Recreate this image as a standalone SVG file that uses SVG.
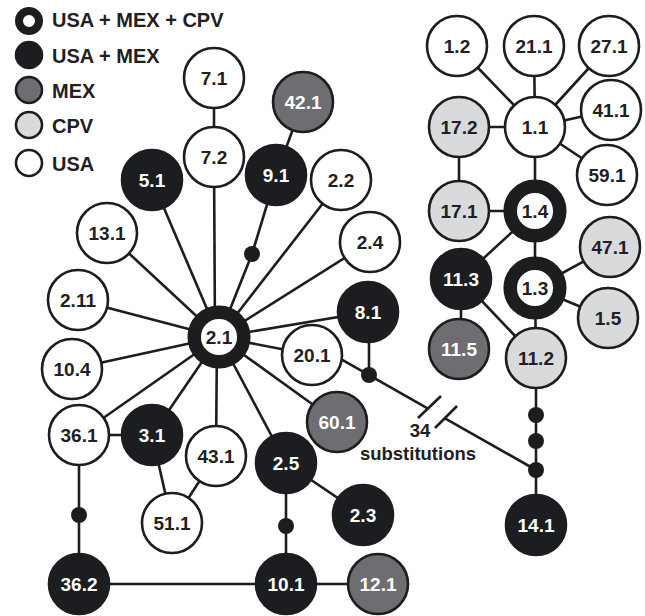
<svg xmlns="http://www.w3.org/2000/svg" width="645" height="616" viewBox="0 0 645 616">
<style>
.e{stroke:#1c1d1f;stroke-width:2.6;fill:none}
.d{fill:#1c1d1f}
.usa{fill:#fff;stroke:#1c1d1f;stroke-width:2.6}
.cpv{fill:#d9dadc;stroke:#1c1d1f;stroke-width:2.6}
.mex{fill:#6e6e72;stroke:#1c1d1f;stroke-width:2.6}
.um{fill:#1c1d20;stroke:#1c1d1f;stroke-width:2.6}
.ring{fill:#fff;stroke:#1c1d1f;stroke-width:13.5}
text{font-family:"Liberation Sans",Arial,sans-serif;font-weight:bold;font-size:19px;text-anchor:middle;fill:#1f2022}
.w{fill:#fff}
.lg{text-anchor:start;font-size:20px}
.sub{font-size:18.5px}
</style>
<rect width="645" height="616" fill="#fff"/>
<g id="legend">
<circle cx="29" cy="21" r="10" fill="#fff" stroke="#1c1d1f" stroke-width="8"/>
<text class="lg" x="52" y="27">USA + MEX + CPV</text>
<circle cx="29" cy="55" r="13" class="um"/>
<text class="lg" x="52" y="63">USA + MEX</text>
<circle cx="29" cy="90" r="13" class="mex"/>
<text class="lg" x="52" y="98">MEX</text>
<circle cx="29" cy="125" r="13" class="cpv"/>
<text class="lg" x="52" y="133">CPV</text>
<circle cx="29" cy="163" r="13" class="usa"/>
<text class="lg" x="52" y="171">USA</text>
</g>
<g id="connectors">
<line class="e" x1="214" y1="78" x2="214" y2="157"/>
<line class="e" x1="215" y1="337" x2="214" y2="157"/>
<line class="e" x1="219" y1="337" x2="152" y2="180"/>
<polyline class="e" points="219,337 252,254 276,175"/>
<line class="e" x1="276" y1="175" x2="303" y2="102"/>
<line class="e" x1="219" y1="337" x2="341" y2="180"/>
<line class="e" x1="219" y1="337" x2="370" y2="242"/>
<line class="e" x1="219" y1="337" x2="368" y2="312"/>
<line class="e" x1="219" y1="337" x2="312" y2="355"/>
<line class="e" x1="219" y1="337" x2="337" y2="422"/>
<line class="e" x1="219" y1="337" x2="286" y2="463"/>
<line class="e" x1="217" y1="337" x2="216" y2="456"/>
<line class="e" x1="219" y1="337" x2="152" y2="435"/>
<line class="e" x1="219" y1="337" x2="79" y2="435"/>
<line class="e" x1="219" y1="337" x2="72" y2="369"/>
<line class="e" x1="219" y1="337" x2="78" y2="300"/>
<line class="e" x1="219" y1="337" x2="107" y2="233"/>
<line class="e" x1="369" y1="312" x2="369" y2="375"/>
<line class="e" x1="330" y1="352.8" x2="428" y2="408.6"/>
<line class="e" x1="418" y1="418" x2="441" y2="396"/>
<line class="e" x1="435" y1="428" x2="457" y2="406"/>
<line class="e" x1="445" y1="418.3" x2="536" y2="470"/>
<line class="e" x1="79" y1="435" x2="152" y2="435"/>
<line class="e" x1="152" y1="435" x2="172" y2="523"/>
<line class="e" x1="216" y1="456" x2="172" y2="523"/>
<line class="e" x1="286" y1="463" x2="363" y2="515"/>
<line class="e" x1="286" y1="463" x2="286" y2="584"/>
<line class="e" x1="79" y1="435" x2="79" y2="584"/>
<line class="e" x1="79" y1="584" x2="378" y2="584"/>
<line class="e" x1="457" y1="46" x2="535" y2="127"/>
<line class="e" x1="534" y1="46" x2="535" y2="127"/>
<line class="e" x1="609" y1="46" x2="535" y2="127"/>
<line class="e" x1="611" y1="110" x2="535" y2="127"/>
<line class="e" x1="607" y1="175" x2="535" y2="127"/>
<line class="e" x1="459" y1="127" x2="535" y2="127"/>
<line class="e" x1="459" y1="127" x2="459" y2="211"/>
<line class="e" x1="535" y1="127" x2="535" y2="211"/>
<line class="e" x1="459" y1="211" x2="535" y2="211"/>
<line class="e" x1="535" y1="211" x2="535" y2="288"/>
<line class="e" x1="535" y1="211" x2="461" y2="279"/>
<line class="e" x1="535" y1="288" x2="610" y2="247"/>
<line class="e" x1="535" y1="288" x2="608" y2="318"/>
<line class="e" x1="461" y1="279" x2="461" y2="349"/>
<line class="e" x1="461" y1="279" x2="536" y2="358"/>
<line class="e" x1="535" y1="288" x2="536" y2="358"/>
<line class="e" x1="536" y1="358" x2="536" y2="525"/>
<circle class="d" cx="252" cy="254" r="8"/>
<circle class="d" cx="369" cy="375" r="8"/>
<circle class="d" cx="79" cy="515" r="8"/>
<circle class="d" cx="286" cy="526" r="8"/>
<circle class="d" cx="536" cy="415" r="8"/>
<circle class="d" cx="536" cy="441" r="8"/>
<circle class="d" cx="536" cy="470" r="8"/>
</g>
<g id="label-34">
<text class="sub" x="420" y="437">34</text>
<text class="sub" x="418" y="460">substitutions</text>
</g>
<g id="n2_1"><circle class="ring" cx="219" cy="337" r="24.8"/><text x="219" y="344">2.1</text></g>
<g id="n7_1"><circle class="usa" cx="214" cy="78" r="30"/><text x="214" y="85">7.1</text></g>
<g id="n7_2"><circle class="usa" cx="214" cy="157" r="30"/><text x="214" y="164">7.2</text></g>
<g id="n5_1"><circle class="um" cx="152" cy="180" r="30"/><text class="w" x="152" y="187">5.1</text></g>
<g id="n42_1"><circle class="mex" cx="303" cy="102" r="30"/><text class="w" x="303" y="109">42.1</text></g>
<g id="n9_1"><circle class="um" cx="276" cy="175" r="30"/><text class="w" x="276" y="182">9.1</text></g>
<g id="n2_2"><circle class="usa" cx="341" cy="180" r="30"/><text x="341" y="187">2.2</text></g>
<g id="n2_4"><circle class="usa" cx="370" cy="242" r="30"/><text x="370" y="249">2.4</text></g>
<g id="n8_1"><circle class="um" cx="368" cy="312" r="30"/><text class="w" x="368" y="319">8.1</text></g>
<g id="n20_1"><circle class="usa" cx="312" cy="355" r="30"/><text x="312" y="362">20.1</text></g>
<g id="n60_1"><circle class="mex" cx="337" cy="422" r="30"/><text class="w" x="337" y="429">60.1</text></g>
<g id="n13_1"><circle class="usa" cx="107" cy="233" r="30"/><text x="107" y="240">13.1</text></g>
<g id="n2_11"><circle class="usa" cx="78" cy="300" r="30"/><text x="78" y="307">2.11</text></g>
<g id="n10_4"><circle class="usa" cx="72" cy="369" r="30"/><text x="72" y="376">10.4</text></g>
<g id="n36_1"><circle class="usa" cx="79" cy="435" r="30"/><text x="79" y="442">36.1</text></g>
<g id="n3_1"><circle class="um" cx="152" cy="435" r="30"/><text class="w" x="152" y="442">3.1</text></g>
<g id="n43_1"><circle class="usa" cx="216" cy="456" r="30"/><text x="216" y="463">43.1</text></g>
<g id="n51_1"><circle class="usa" cx="172" cy="523" r="30"/><text x="172" y="530">51.1</text></g>
<g id="n2_5"><circle class="um" cx="286" cy="463" r="30"/><text class="w" x="286" y="470">2.5</text></g>
<g id="n2_3"><circle class="um" cx="363" cy="515" r="30"/><text class="w" x="363" y="522">2.3</text></g>
<g id="n36_2"><circle class="um" cx="79" cy="584" r="30"/><text class="w" x="79" y="591">36.2</text></g>
<g id="n10_1"><circle class="um" cx="286" cy="584" r="30"/><text class="w" x="286" y="591">10.1</text></g>
<g id="n12_1"><circle class="mex" cx="378" cy="584" r="30"/><text class="w" x="378" y="591">12.1</text></g>
<g id="n1_2"><circle class="usa" cx="457" cy="46" r="30"/><text x="457" y="53">1.2</text></g>
<g id="n21_1"><circle class="usa" cx="534" cy="46" r="30"/><text x="534" y="53">21.1</text></g>
<g id="n27_1"><circle class="usa" cx="609" cy="46" r="30"/><text x="609" y="53">27.1</text></g>
<g id="n1_1"><circle class="usa" cx="535" cy="127" r="30"/><text x="535" y="134">1.1</text></g>
<g id="n17_2"><circle class="cpv" cx="459" cy="127" r="30"/><text x="459" y="134">17.2</text></g>
<g id="n41_1"><circle class="usa" cx="611" cy="110" r="30"/><text x="611" y="117">41.1</text></g>
<g id="n59_1"><circle class="usa" cx="607" cy="175" r="30"/><text x="607" y="182">59.1</text></g>
<g id="n17_1"><circle class="cpv" cx="459" cy="211" r="30"/><text x="459" y="218">17.1</text></g>
<g id="n1_4"><circle class="ring" cx="535" cy="211" r="24.8"/><text x="535" y="218">1.4</text></g>
<g id="n47_1"><circle class="cpv" cx="610" cy="247" r="30"/><text x="610" y="254">47.1</text></g>
<g id="n1_3"><circle class="ring" cx="535" cy="288" r="24.8"/><text x="535" y="295">1.3</text></g>
<g id="n1_5"><circle class="cpv" cx="608" cy="318" r="30"/><text x="608" y="325">1.5</text></g>
<g id="n11_3"><circle class="um" cx="461" cy="279" r="30"/><text class="w" x="461" y="286">11.3</text></g>
<g id="n11_5"><circle class="mex" cx="459" cy="349" r="30"/><text class="w" x="459" y="356">11.5</text></g>
<g id="n11_2"><circle class="cpv" cx="536" cy="358" r="30"/><text x="536" y="365">11.2</text></g>
<g id="n14_1"><circle class="um" cx="536" cy="525" r="30"/><text class="w" x="536" y="532">14.1</text></g>
</svg>
